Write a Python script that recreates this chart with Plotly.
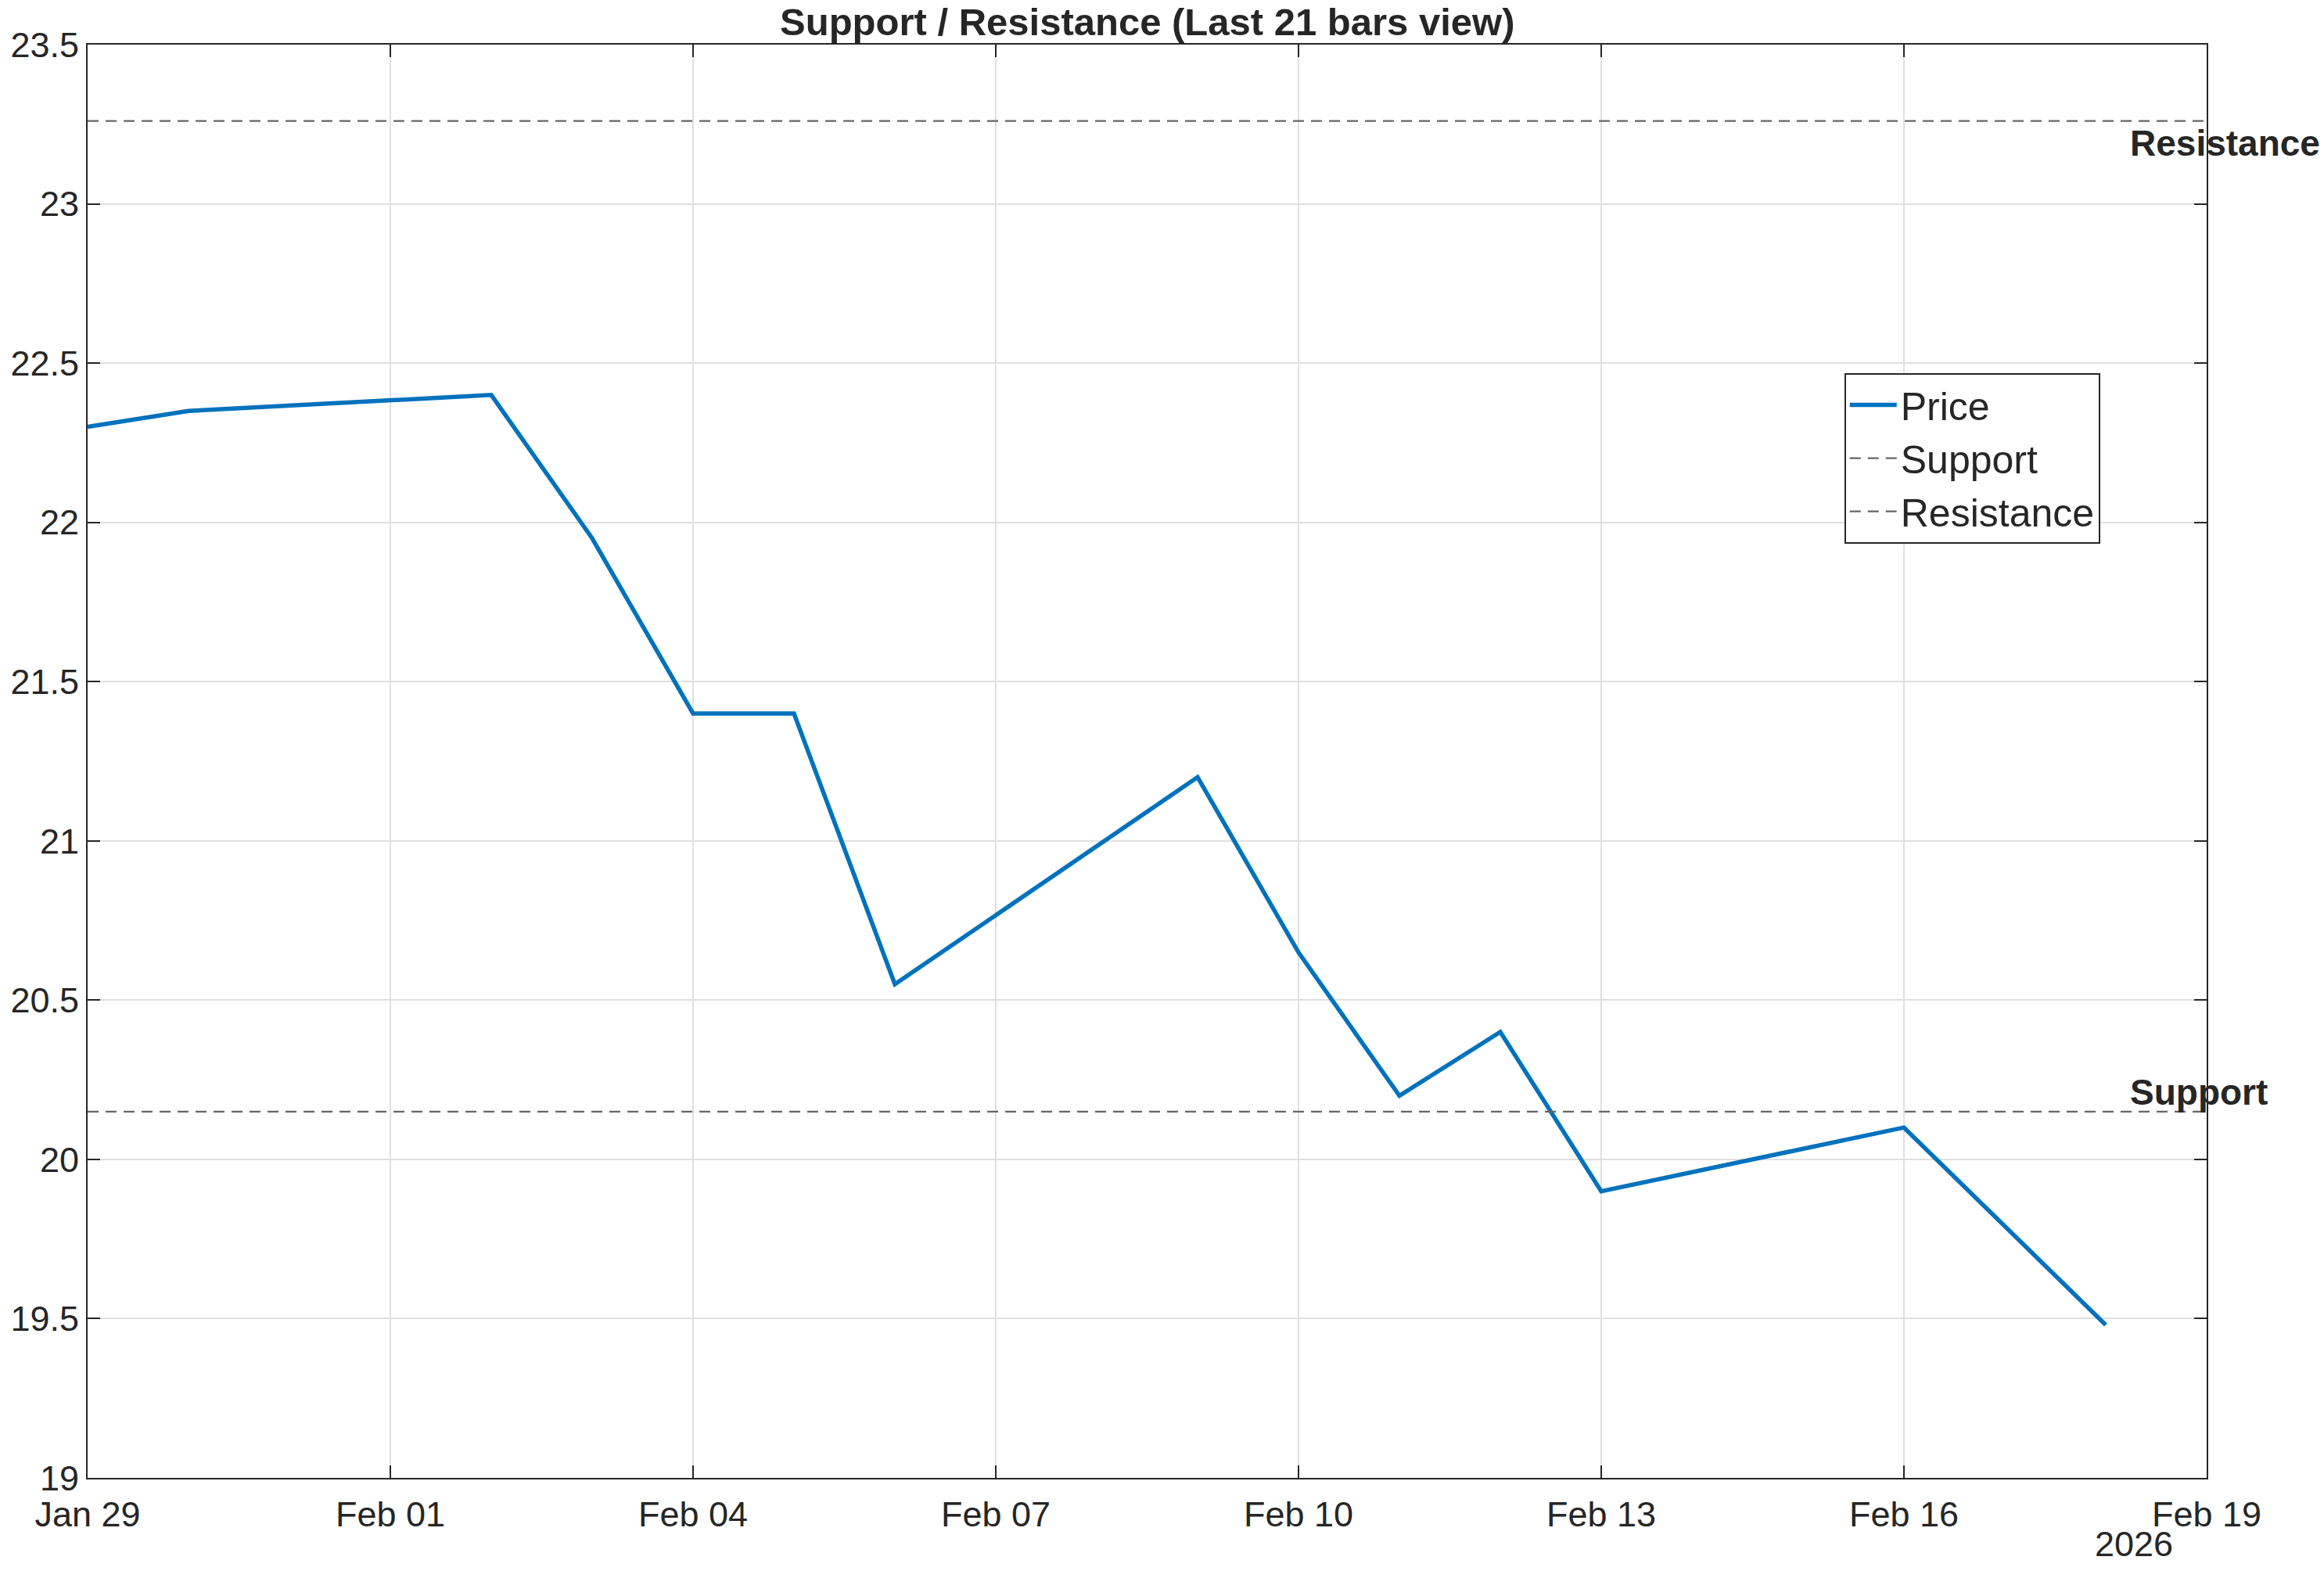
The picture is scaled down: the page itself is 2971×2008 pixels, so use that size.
import plotly.graph_objects as go

dates = ["2026-01-29", "2026-01-30", "2026-02-02", "2026-02-03", "2026-02-04",
         "2026-02-05", "2026-02-06", "2026-02-09", "2026-02-10", "2026-02-11",
         "2026-02-12", "2026-02-13", "2026-02-16", "2026-02-18"]
prices = [22.30, 22.35, 22.40, 21.95, 21.40, 21.40, 20.55, 21.20, 20.65, 20.20,
          20.40, 19.90, 20.10, 19.48]
support_level = 20.15
resistance_level = 23.26
x_start, x_end = "2026-01-29", "2026-02-19"
x_tick_vals = ["2026-01-29", "2026-02-01", "2026-02-04", "2026-02-07",
               "2026-02-10", "2026-02-13", "2026-02-16", "2026-02-19"]
x_tick_text = ["Jan 29", "Feb 01", "Feb 04", "Feb 07", "Feb 10", "Feb 13", "Feb 16", "Feb 19"]
y_tick_vals = [19, 19.5, 20, 20.5, 21, 21.5, 22, 22.5, 23, 23.5]
y_tick_text = ["19", "19.5", "20", "20.5", "21", "21.5", "22", "22.5", "23", "23.5"]

FONT = "Liberation Sans, Arial, Helvetica, sans-serif"
TXT = "#262626"

fig = go.Figure()
fig.add_trace(go.Scatter(x=dates, y=prices, mode="lines", name="Price",
                         line=dict(color="#0072BD", width=5.5)))
fig.add_trace(go.Scatter(x=[x_start, x_end], y=[support_level, support_level], mode="lines",
                         name="Support", line=dict(color="#666666", width=2.2, dash="14px,9px")))
fig.add_trace(go.Scatter(x=[x_start, x_end], y=[resistance_level, resistance_level], mode="lines",
                         name="Resistance", line=dict(color="#666666", width=2.2, dash="14px,9px")))

fig.add_annotation(x=0.963, xref="paper", y=resistance_level, yref="y", text="<b>Resistance</b>",
                   showarrow=False, xanchor="left", yanchor="middle", yshift=-28,
                   font=dict(family=FONT, size=46, color=TXT))
fig.add_annotation(x=0.963, xref="paper", y=support_level, yref="y", text="<b>Support</b>",
                   showarrow=False, xanchor="left", yanchor="middle", yshift=25,
                   font=dict(family=FONT, size=46, color=TXT))
fig.add_annotation(x=0.985, xref="paper", y=-0.046, yref="paper", text="2026",
                   showarrow=False, xanchor="right", yanchor="middle",
                   font=dict(family=FONT, size=45, color=TXT))

axis_common = dict(showline=True, linecolor=TXT, linewidth=2, mirror="allticks",
                   ticks="inside", ticklen=16, tickwidth=2, tickcolor=TXT,
                   showgrid=True, gridcolor="#e0e0e0", gridwidth=2, zeroline=False,
                   tickfont=dict(family=FONT, size=45, color=TXT))

fig.update_layout(
    width=2971, height=2008,
    paper_bgcolor="white", plot_bgcolor="white",
    margin=dict(l=112, r=150, t=57, b=119),
    title=dict(text="<b>Support / Resistance (Last 21 bars view)</b>", x=0.4937, xanchor="center",
               y=1 - 28 / 2008, yanchor="middle", yref="container",
               font=dict(family=FONT, size=49, color=TXT)),
    xaxis=dict(range=[x_start, x_end], tickvals=x_tick_vals, ticktext=x_tick_text,
               ticklabelstandoff=6, **axis_common),
    yaxis=dict(range=[19, 23.5], tickvals=y_tick_vals, ticktext=y_tick_text, **axis_common),
    legend=dict(x=0.829, y=0.771, xanchor="left", yanchor="top", bgcolor="white",
                bordercolor=TXT, borderwidth=2, font=dict(family=FONT, size=50, color=TXT),
                tracegroupgap=0, itemwidth=60),
    showlegend=True,
)

fig.write_html("out.html")
